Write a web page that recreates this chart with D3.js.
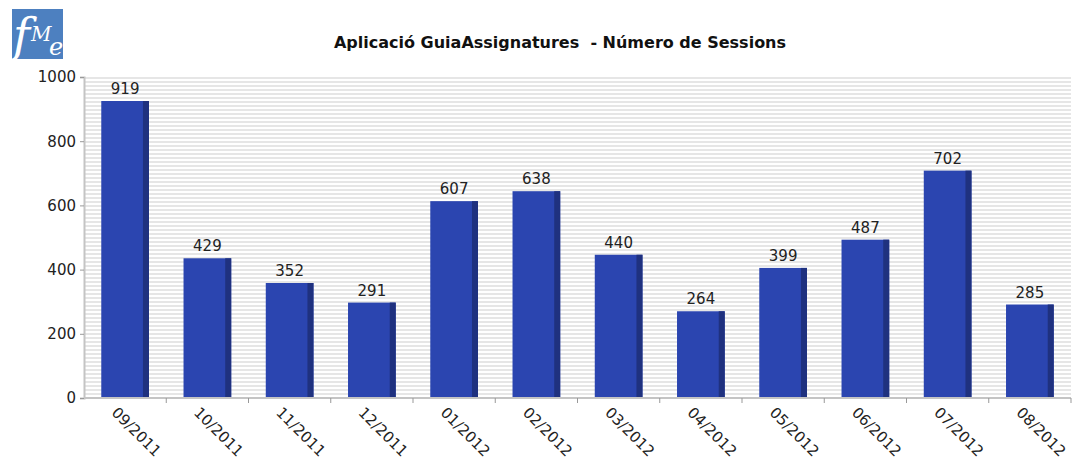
<!DOCTYPE html>
<html>
<head>
<meta charset="utf-8">
<script src="https://cdn.jsdelivr.net/npm/d3@7/dist/d3.min.js"></script>
<style>
    body { margin: 0; background: #fff; }
    text { font-family: "DejaVu Sans", sans-serif; }
</style>
</head>
<body>
<svg id="chart" width="1078" height="465"></svg>
<script>
const months = ["09/2011", "10/2011", "11/2011", "12/2011", "01/2012", "02/2012",
    "03/2012", "04/2012", "05/2012", "06/2012", "07/2012", "08/2012"];
const sessions = [919, 429, 352, 291, 607, 638, 440, 264, 399, 487, 702, 285];
const yTicks = [0, 200, 400, 600, 800, 1000];

const svg = d3.select("#chart");
const plotLeft = 84, plotRight = 1071, plotTop = 77, plotBottom = 398;

// striped plot background
const defs = svg.append("defs");
defs.append("pattern")
    .attr("id", "stripes")
    .attr("width", 8)
    .attr("height", 4)
    .attr("patternUnits", "userSpaceOnUse")
    .attr("y", plotTop)
    .call(p => {
        p.append("rect").attr("width", 8).attr("height", 4).attr("fill", "#ffffff");
        p.append("rect").attr("width", 8).attr("height", 2).attr("fill", "#e6e6e6");
    });

// logo
const logo = svg.append("g").attr("transform", "translate(12,9)");
logo.append("rect").attr("width", 51).attr("height", 50).attr("fill", "#4d80c0");
const logoText = logo.append("text")
    .attr("fill", "#fff")
    .style("font-family", "'DejaVu Serif', serif")
    .style("font-style", "italic");
logoText.append("tspan").attr("x", 1).attr("y", 42).style("font-size", "46px").text("f");
logoText.append("tspan").attr("x", 19).attr("y", 32).style("font-size", "20px").text("M");
logoText.append("tspan").attr("x", 37).attr("y", 46).style("font-size", "24px").text("e");

svg.append("text")
    .attr("x", 560).attr("y", 48)
    .attr("text-anchor", "middle")
    .attr("xml:space", "preserve")
    .style("white-space", "pre")
    .style("font-size", "16px")
    .style("font-weight", "bold")
    .attr("fill", "#111")
    .text("Aplicació GuiaAssignatures  - Número de Sessions");

const x = d3.scaleBand().domain(months).range([plotLeft, plotRight]).paddingInner(0.42).paddingOuter(0.21);
const xEdge = d3.scaleLinear().domain([0, months.length]).range([plotLeft, plotRight]);
const y = d3.scaleLinear().domain([0, 1000]).range([plotBottom, plotTop]);

svg.append("rect")
    .attr("x", plotLeft).attr("y", plotTop)
    .attr("width", plotRight - plotLeft).attr("height", plotBottom - plotTop)
    .attr("fill", "url(#stripes)");

// bars with dark right side
const bars = svg.append("g").selectAll("g").data(months).join("g");
bars.append("rect")
    .attr("x", d => x(d))
    .attr("y", (d, i) => y(sessions[i]) - 2)
    .attr("width", x.bandwidth())
    .attr("height", (d, i) => plotBottom - y(sessions[i]) + 2)
    .attr("fill", "#2b45b0");
bars.append("rect")
    .attr("x", d => x(d) + x.bandwidth() - 6)
    .attr("y", (d, i) => y(sessions[i]) - 2)
    .attr("width", 6)
    .attr("height", (d, i) => plotBottom - y(sessions[i]) + 2)
    .attr("fill", "#1f317f");
bars.append("text")
    .attr("x", d => x(d) + x.bandwidth() / 2)
    .attr("y", (d, i) => y(sessions[i]) - 9)
    .attr("text-anchor", "middle")
    .style("font-size", "15px")
    .attr("fill", "#222")
    .text((d, i) => sessions[i]);

// y axis
const yAxis = svg.append("g")
    .attr("transform", `translate(${plotLeft},0)`)
    .call(d3.axisLeft(y).tickValues(yTicks).tickFormat(d3.format("d")).tickSize(4).tickPadding(4));
yAxis.select(".domain").attr("stroke", "#c4c4c4").attr("stroke-width", 2);
yAxis.selectAll(".tick line").attr("stroke", "#999");
yAxis.selectAll(".tick text").style("font-size", "15px").attr("fill", "#222")
    .style("font-family", "'DejaVu Sans', sans-serif");

// x axis: line and ticks at category boundaries
const xAxis = svg.append("g").attr("transform", `translate(0,${plotBottom})`);
xAxis.append("line")
    .attr("x1", plotLeft).attr("x2", plotRight)
    .attr("stroke", "#c4c4c4").attr("stroke-width", 2);
xAxis.selectAll("line.tk").data(d3.range(1, months.length + 1)).join("line")
    .attr("class", "tk")
    .attr("x1", d => xEdge(d)).attr("x2", d => xEdge(d))
    .attr("y1", 0).attr("y2", 5)
    .attr("stroke", "#999");
xAxis.selectAll("text").data(months).join("text")
    .attr("transform", d => `translate(${x(d) + x.bandwidth() / 2 - 7},8) rotate(45)`)
    .style("font-size", "15px")
    .attr("fill", "#222")
    .attr("dy", "0.7em")
    .text(d => d);
</script>
</body>
</html>
